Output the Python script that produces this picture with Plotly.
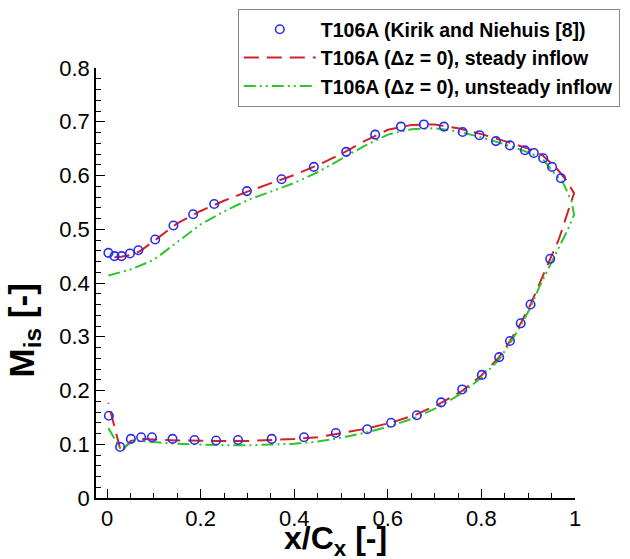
import plotly.graph_objects as go

# Experimental data (Kirik and Niehuis)
exp_x_suction = [0.003, 0.016, 0.031, 0.049, 0.067, 0.103, 0.142, 0.184, 0.229, 0.299,
                 0.373, 0.442, 0.511, 0.573, 0.628, 0.677, 0.720, 0.760, 0.796, 0.831,
                 0.861, 0.893, 0.912, 0.932, 0.951, 0.970]
exp_m_suction = [0.456, 0.450, 0.450, 0.455, 0.461, 0.481, 0.507, 0.528, 0.547, 0.571,
                 0.593, 0.616, 0.644, 0.676, 0.691, 0.695, 0.691, 0.681, 0.675, 0.664,
                 0.656, 0.647, 0.642, 0.632, 0.616, 0.595]
exp_x_pressure = [0.004, 0.028, 0.051, 0.073, 0.096, 0.140, 0.187, 0.233, 0.280, 0.352,
                  0.421, 0.489, 0.556, 0.607, 0.662, 0.714, 0.759, 0.801, 0.838, 0.861,
                  0.884, 0.905, 0.947]
exp_m_pressure = [0.153, 0.095, 0.110, 0.113, 0.113, 0.110, 0.108, 0.107, 0.108, 0.110,
                  0.113, 0.121, 0.128, 0.140, 0.154, 0.178, 0.202, 0.229, 0.262, 0.292,
                  0.325, 0.360, 0.445]

# Steady inflow simulation
steady_x_suction = [0.016, 0.03, 0.05, 0.07, 0.10, 0.15, 0.20, 0.25, 0.30, 0.35, 0.40,
                    0.45, 0.50, 0.55, 0.60, 0.65, 0.70, 0.75, 0.80, 0.85, 0.90, 0.93,
                    0.96, 0.98, 0.998]
steady_m_suction = [0.448, 0.449, 0.452, 0.459, 0.478, 0.511, 0.534, 0.553, 0.570, 0.585,
                    0.601, 0.619, 0.640, 0.664, 0.685, 0.694, 0.695, 0.688, 0.677, 0.664,
                    0.650, 0.638, 0.614, 0.593, 0.567]
steady_x_pressure = [0.998, 0.985, 0.965, 0.947, 0.925, 0.905, 0.884, 0.861, 0.838, 0.80,
                     0.76, 0.71, 0.66, 0.61, 0.56, 0.50, 0.45, 0.40, 0.35, 0.30, 0.25,
                     0.20, 0.15, 0.10, 0.07, 0.05, 0.03, 0.003]
steady_m_pressure = [0.567, 0.533, 0.480, 0.445, 0.400, 0.360, 0.325, 0.292, 0.262, 0.228,
                     0.200, 0.175, 0.155, 0.141, 0.130, 0.120, 0.113, 0.110, 0.108, 0.106,
                     0.106, 0.106, 0.107, 0.109, 0.110, 0.106, 0.085, 0.177]

# Unsteady inflow simulation
unsteady_x_suction = [0.003, 0.05, 0.10, 0.15, 0.20, 0.25, 0.30, 0.35, 0.40, 0.45, 0.50,
                      0.55, 0.60, 0.65, 0.70, 0.75, 0.80, 0.85, 0.90, 0.93, 0.955, 0.975,
                      0.993, 0.998]
unsteady_m_suction = [0.414, 0.425, 0.443, 0.476, 0.509, 0.533, 0.554, 0.570, 0.586, 0.606,
                      0.630, 0.655, 0.676, 0.686, 0.688, 0.682, 0.671, 0.658, 0.643, 0.632,
                      0.605, 0.586, 0.551, 0.527]
unsteady_x_pressure = [0.998, 0.985, 0.965, 0.947, 0.925, 0.905, 0.884, 0.861, 0.838, 0.80,
                       0.76, 0.71, 0.66, 0.61, 0.56, 0.50, 0.45, 0.40, 0.35, 0.30, 0.25,
                       0.20, 0.15, 0.10, 0.07, 0.05, 0.03, 0.003]
unsteady_m_pressure = [0.527, 0.500, 0.465, 0.435, 0.395, 0.355, 0.320, 0.288, 0.258, 0.224,
                       0.196, 0.170, 0.150, 0.135, 0.123, 0.112, 0.105, 0.101, 0.099, 0.098,
                       0.098, 0.099, 0.101, 0.104, 0.106, 0.103, 0.090, 0.130]

x_tick_vals = [0, 0.2, 0.4, 0.6, 0.8, 1.0]
x_tick_text = ["0", "0.2", "0.4", "0.6", "0.8", "1"]
y_tick_vals = [0, 0.1, 0.2, 0.3, 0.4, 0.5, 0.6, 0.7, 0.8]
y_tick_text = ["0", "0.1", "0.2", "0.3", "0.4", "0.5", "0.6", "0.7", "0.8"]

names = ["<b>T106A (Kirik and Niehuis [8])</b>",
         "<b>T106A (\u0394z = 0), steady inflow</b>",
         "<b>T106A (\u0394z = 0), unsteady inflow</b>"]

fig = go.Figure()

fig.add_trace(go.Scatter(
    x=steady_x_suction + steady_x_pressure,
    y=steady_m_suction + steady_m_pressure,
    mode="lines", name=names[1],
    line=dict(color="#d42128", width=2, dash="15px,8px"),
    legendrank=2,
))
fig.add_trace(go.Scatter(
    x=unsteady_x_suction + unsteady_x_pressure,
    y=unsteady_m_suction + unsteady_m_pressure,
    mode="lines", name=names[2],
    line=dict(color="#2fc42f", width=2, dash="12px,4px,2px,4px,2px,4px"),
    legendrank=3,
))
fig.add_trace(go.Scatter(
    x=exp_x_suction + exp_x_pressure,
    y=exp_m_suction + exp_m_pressure,
    mode="markers", name=names[0],
    marker=dict(symbol="circle-open", size=8.5, color="#2b2bf0", line=dict(width=1.6)),
    legendrank=1,
))

axis_common = dict(
    showgrid=False, zeroline=False, showline=True, linecolor="black", linewidth=1.5,
    ticks="inside", ticklen=9, tickwidth=1.3, tickcolor="black", mirror=False,
    tickfont=dict(family="Arial", size=22, color="black"),
)

fig.update_xaxes(
    range=[-0.0235, 1.0],
    tickvals=x_tick_vals, ticktext=x_tick_text,
    minor=dict(dtick=0.05, tick0=0, ticks="inside", ticklen=5, tickcolor="black", tickwidth=1),
    **axis_common,
)
fig.update_yaxes(
    range=[0, 0.8],
    tickvals=y_tick_vals, ticktext=y_tick_text,
    minor=dict(dtick=0.02, tick0=0, ticks="inside", ticklen=5, tickcolor="black", tickwidth=1),
    **axis_common,
)

fig.add_annotation(
    text="<b>x/C<sub>x</sub> [-]</b>",
    xref="paper", yref="paper", x=0.5, y=-0.049,
    xanchor="center", yanchor="top", showarrow=False, borderpad=0,
    font=dict(family="Arial", size=32, color="black"),
)
fig.add_annotation(
    text="<b>M<sub>is</sub> [-]</b>", textangle=-90,
    xref="paper", yref="paper", x=-0.150, y=0.39,
    xanchor="center", yanchor="middle", showarrow=False, borderpad=0,
    font=dict(family="Arial", size=35, color="black"),
)

fig.update_layout(
    width=630, height=559,
    margin=dict(l=96, r=55, t=68, b=61, autoexpand=False),
    plot_bgcolor="white", paper_bgcolor="white",
    showlegend=True,
    legend=dict(
        x=0.296, y=1.137, xanchor="left", yanchor="top",
        bordercolor="#888888", borderwidth=1, bgcolor="white",
        font=dict(family="Arial", size=19.5, color="black"),
        itemwidth=72, tracegroupgap=0,
    ),
)

fig.write_html("out.html")
